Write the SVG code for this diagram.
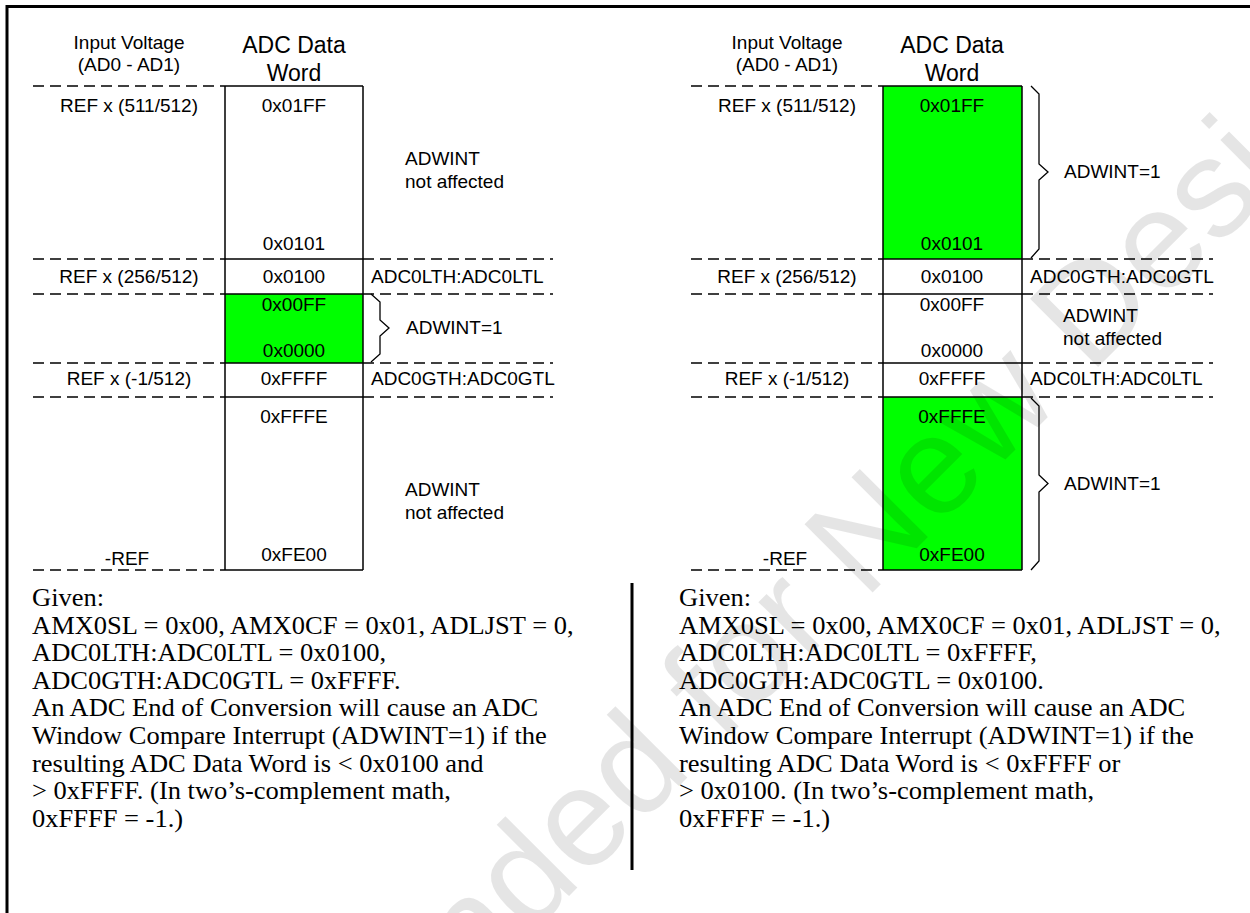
<svg xmlns="http://www.w3.org/2000/svg" width="1250" height="913" viewBox="0 0 1250 913">
<style>
.lbl{font-family:"Liberation Sans",Arial,sans-serif;font-size:19px;fill:#000}
.c{text-anchor:middle}
.ttl{font-size:23px}
.body{font-family:"Liberation Serif","Times New Roman",serif;font-size:25px;fill:#000}
.dash{stroke:#000;stroke-width:1.5;stroke-dasharray:11 6;fill:none}
.solid{stroke:#000;stroke-width:1.5;fill:none}
.brace{stroke:#000;stroke-width:1.3;fill:none}
.hi{fill:#00ff00}
.wm{font-family:"Liberation Sans",Arial,sans-serif;font-size:140px;fill:#000;fill-opacity:0.1}
</style>
<rect width="1250" height="913" fill="#fff"/>
<g id="frame" stroke="#000" stroke-width="3" fill="none">
<line x1="7" y1="6.5" x2="1250" y2="6.5"/>
<line x1="7" y1="5" x2="7" y2="913"/>
<line x1="632" y1="583" x2="632" y2="870"/>
</g>
<g id="left-panel">
<g id="l-fills"><rect class="hi" x="225" y="294" width="138" height="69"/></g>
<g id="l-head">
<text class="lbl c" x="129" y="49">Input Voltage</text>
<text class="lbl c" x="129" y="71">(AD0 - AD1)</text>
<text class="lbl ttl c" x="294" y="53">ADC Data</text>
<text class="lbl ttl c" x="294" y="81">Word</text>
</g>
<g id="l-grid">
<path class="dash" d="M33,86H225M33,259H225M33,294H225M33,363H225M33,397H225M33,570H225M363,259H553M363,294H553M363,363H553M363,397H553"/>
<path class="solid" d="M225,86V570M363,86V570M225,86H363M225,259H363M225,294H363M225,363H363M225,397H363M225,570H363"/>
</g>
<g id="l-row1"><text class="lbl c" x="129" y="112">REF x (511/512)</text><text class="lbl c" x="294" y="112">0x01FF</text><text class="lbl c" x="294" y="250">0x0101</text><text class="lbl" x="405" y="165">ADWINT</text><text class="lbl" x="405" y="188">not affected</text></g>
<g id="l-row2"><text class="lbl c" x="129" y="283">REF x (256/512)</text><text class="lbl c" x="294" y="283">0x0100</text><text class="lbl" x="371" y="283">ADC0LTH:ADC0LTL</text></g>
<g id="l-row3"><text class="lbl c" x="294" y="311">0x00FF</text><text class="lbl c" x="294" y="357">0x0000</text><text class="lbl" x="406" y="334">ADWINT=1</text></g>
<g id="l-row4"><text class="lbl c" x="129" y="385">REF x (-1/512)</text><text class="lbl c" x="294" y="385">0xFFFF</text><text class="lbl" x="371" y="385">ADC0GTH:ADC0GTL</text></g>
<g id="l-row5"><text class="lbl c" x="294" y="423">0xFFFE</text><text class="lbl c" x="294" y="561">0xFE00</text><text class="lbl c" x="127" y="565">-REF</text><text class="lbl" x="405" y="496">ADWINT</text><text class="lbl" x="405" y="519">not affected</text></g>
</g>
<g id="right-panel">
<g id="r-fills"><rect class="hi" x="883" y="86" width="139" height="173"/><rect class="hi" x="883" y="397" width="139" height="173"/></g>
<g id="r-head">
<text class="lbl c" x="787" y="49">Input Voltage</text>
<text class="lbl c" x="787" y="71">(AD0 - AD1)</text>
<text class="lbl ttl c" x="952" y="53">ADC Data</text>
<text class="lbl ttl c" x="952" y="81">Word</text>
</g>
<g id="r-grid">
<path class="dash" d="M691,86H883M691,259H883M691,294H883M691,363H883M691,397H883M691,570H883M1022,259H1213M1022,294H1213M1022,363H1213M1022,397H1213"/>
<path class="solid" d="M883,86V570M1022,86V570M883,86H1022M883,259H1022M883,294H1022M883,363H1022M883,397H1022M883,570H1022"/>
</g>
<g id="r-row1"><text class="lbl c" x="787" y="112">REF x (511/512)</text><text class="lbl c" x="952" y="112">0x01FF</text><text class="lbl c" x="952" y="250">0x0101</text><text class="lbl" x="1064" y="178">ADWINT=1</text></g>
<g id="r-row2"><text class="lbl c" x="787" y="283">REF x (256/512)</text><text class="lbl c" x="952" y="283">0x0100</text><text class="lbl" x="1030" y="283">ADC0GTH:ADC0GTL</text></g>
<g id="r-row3"><text class="lbl c" x="952" y="311">0x00FF</text><text class="lbl c" x="952" y="357">0x0000</text><text class="lbl" x="1063" y="322">ADWINT</text><text class="lbl" x="1063" y="345">not affected</text></g>
<g id="r-row4"><text class="lbl c" x="787" y="385">REF x (-1/512)</text><text class="lbl c" x="952" y="385">0xFFFF</text><text class="lbl" x="1030" y="385">ADC0LTH:ADC0LTL</text></g>
<g id="r-row5"><text class="lbl c" x="952" y="423">0xFFFE</text><text class="lbl c" x="952" y="561">0xFE00</text><text class="lbl c" x="785" y="565">-REF</text><text class="lbl" x="1064" y="490">ADWINT=1</text></g>
</g>
<g id="connectors">
<path class="brace" d="M371,294L380,302V320L389,328L380,336V354L371,362"/>
<path class="brace" d="M1031,86L1039,94V164L1048,172L1039,180V249L1031,258"/>
<path class="brace" d="M1031,398L1039,406V475L1048,483.5L1039,492V561L1031,570"/>
</g>
<g id="left-text" class="body" transform="translate(32,0) scale(1.06,1)">
<text x="0" y="606">Given:</text>
<text x="0" y="633.6">AMX0SL = 0x00, AMX0CF = 0x01, ADLJST = 0,</text>
<text x="0" y="661.2">ADC0LTH:ADC0LTL = 0x0100,</text>
<text x="0" y="688.8">ADC0GTH:ADC0GTL = 0xFFFF.</text>
<text x="0" y="716.4">An ADC End of Conversion will cause an ADC</text>
<text x="0" y="744">Window Compare Interrupt (ADWINT=1) if the</text>
<text x="0" y="771.6">resulting ADC Data Word is &lt; 0x0100 and</text>
<text x="0" y="799.2">&gt; 0xFFFF. (In two’s-complement math,</text>
<text x="0" y="826.8">0xFFFF = -1.)</text>
</g>
<g id="right-text" class="body" transform="translate(679,0) scale(1.06,1)">
<text x="0" y="606">Given:</text>
<text x="0" y="633.6">AMX0SL = 0x00, AMX0CF = 0x01, ADLJST = 0,</text>
<text x="0" y="661.2">ADC0LTH:ADC0LTL = 0xFFFF,</text>
<text x="0" y="688.8">ADC0GTH:ADC0GTL = 0x0100.</text>
<text x="0" y="716.4">An ADC End of Conversion will cause an ADC</text>
<text x="0" y="744">Window Compare Interrupt (ADWINT=1) if the</text>
<text x="0" y="771.6">resulting ADC Data Word is &lt; 0xFFFF or</text>
<text x="0" y="799.2">&gt; 0x0100. (In two’s-complement math,</text>
<text x="0" y="826.8">0xFFFF = -1.)</text>
</g>
<g id="watermark"><text class="wm" transform="translate(-159,1624) rotate(-45)">Not Recommended for New Designs</text></g>
</svg>
